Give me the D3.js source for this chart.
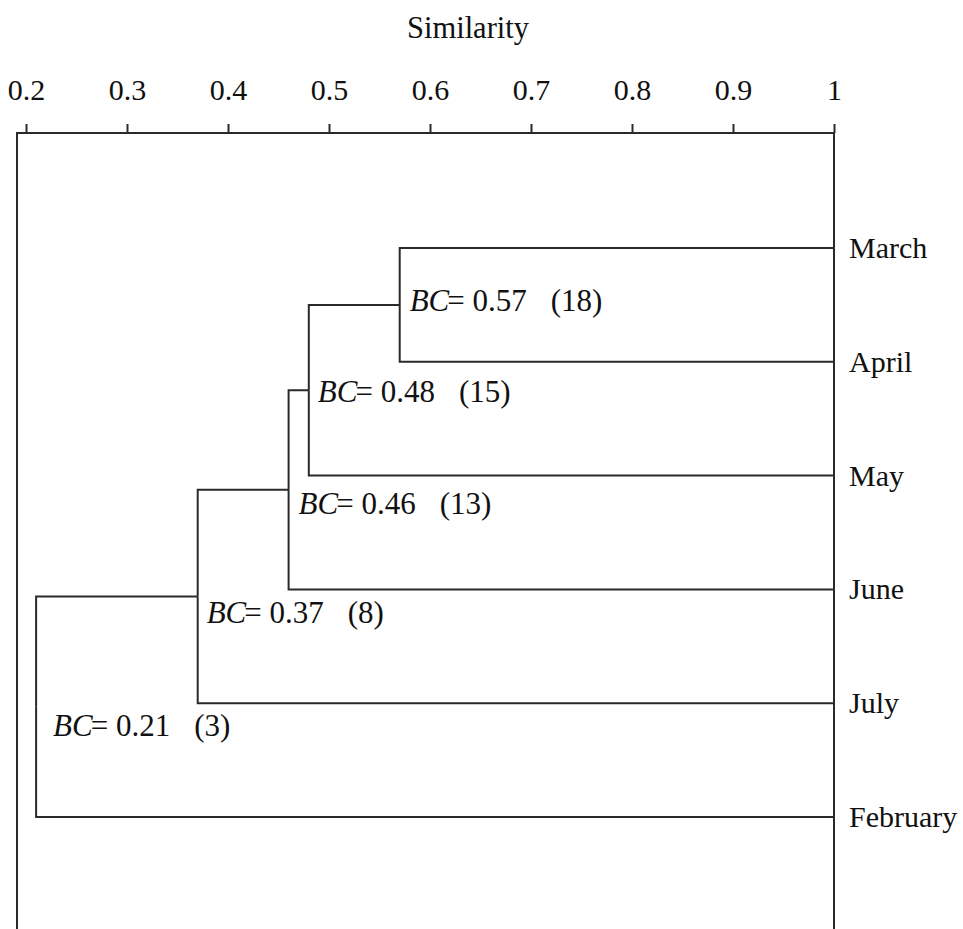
<!DOCTYPE html>
<html>
<head>
<meta charset="utf-8">
<script src="https://cdn.jsdelivr.net/npm/d3@7"></script>
<style>
  html, body { margin: 0; padding: 0; background: #ffffff; }
  svg { display: block; }
</style>
</head>
<body>
<svg id="chart" width="963" height="929"></svg>
<script>
// Months (leaves), top to bottom
const leafNames = ["March", "April", "May", "June", "July", "February"];

// Agglomeration steps: each step joins a cluster (or month) with another month
const mergeIds = ["c1", "c2", "c3", "c4", "c5"];
const mergeLeft = ["March", "c1", "c2", "c3", "c4"];
const mergeRight = ["April", "May", "June", "July", "February"];
const mergeSimilarity = [0.57, 0.48, 0.46, 0.37, 0.21];   // Bray-Curtis similarity
const sharedCounts = [18, 15, 13, 8, 3];

// Axis
const tickValues = [0.2, 0.3, 0.4, 0.5, 0.6, 0.7, 0.8, 0.9, 1];
const tickLabels = ["0.2", "0.3", "0.4", "0.5", "0.6", "0.7", "0.8", "0.9", "1"];
const axisTitle = "Similarity";

// ---- layout ----
const W = 963, H = 929;
const frameTop = 133, frameLeft = 17;
const fontFamily = '"Liberation Serif", "Times New Roman", serif';
const lineColor = "#2a2a2a";
const textColor = "#111111";
// annotation offsets (dx, dy) from each merge node
const labelOffsets = [[10, 6], [9, 12], [10, 24], [9, 26], [17, 29]];

const svg = d3.select("#chart");

const x = d3.scaleLinear().domain([0.2, 1]).range([26, 834]);
const y = d3.scalePoint().domain(leafNames).range([248, 817]);

// ---- build tree ----
const nodeMap = new Map();
leafNames.forEach(n => nodeMap.set(n, { name: n, similarity: 1 }));
mergeIds.forEach((id, i) => {
  nodeMap.set(id, {
    name: id,
    similarity: mergeSimilarity[i],
    count: sharedCounts[i],
    step: i,
    children: [nodeMap.get(mergeLeft[i]), nodeMap.get(mergeRight[i])]
  });
});
const root = d3.hierarchy(nodeMap.get(mergeIds[mergeIds.length - 1]));
root.eachAfter(d => {
  d.px = x(d.data.similarity);
  d.py = d.children ? d3.mean(d.children, c => c.py) : y(d.data.name);
});

// ---- frame ----
svg.append("path")
  .attr("fill", "none")
  .attr("stroke", lineColor)
  .attr("stroke-width", 2)
  .attr("d", `M${frameLeft},${H} V${frameTop} H${x(1)} V${H}`);

// ---- axis ----
const axis = d3.axisTop(x)
  .tickValues(tickValues)
  .tickFormat((d, i) => tickLabels[i])
  .tickSize(9)
  .tickPadding(24);

const gAxis = svg.append("g")
  .attr("transform", `translate(0,${frameTop})`)
  .call(axis);
gAxis.select(".domain").remove();
gAxis.selectAll(".tick line")
  .attr("stroke", lineColor)
  .attr("stroke-width", 2);
gAxis.selectAll(".tick text")
  .attr("fill", textColor)
  .attr("dy", 0)
  .style("font-family", fontFamily)
  .style("font-size", "30px");

svg.append("text")
  .attr("x", (x(0.2) + x(1)) / 2 + 38)
  .attr("y", 38)
  .attr("text-anchor", "middle")
  .attr("fill", textColor)
  .style("font-family", fontFamily)
  .style("font-size", "30.5px")
  .text(axisTitle);

// ---- dendrogram links ----
const links = [];
root.each(d => {
  if (d.children) d.children.forEach(c => links.push({ s: d, t: c }));
});
svg.append("g")
  .attr("fill", "none")
  .attr("stroke", lineColor)
  .attr("stroke-width", 2)
  .selectAll("path")
  .data(links)
  .join("path")
  .attr("d", l => `M${l.s.px},${l.s.py} V${l.t.py} H${l.t.px}`);

// ---- leaf labels ----
svg.append("g")
  .selectAll("text")
  .data(root.leaves())
  .join("text")
  .attr("x", d => d.px + 15)
  .attr("y", d => d.py + 10)
  .attr("fill", textColor)
  .style("font-family", fontFamily)
  .style("font-size", "30px")
  .text(d => d.data.name);

// ---- merge annotations ----
const internal = root.descendants().filter(d => d.children);
const ann = svg.append("g")
  .selectAll("text")
  .data(internal)
  .join("text")
  .attr("x", d => d.px + labelOffsets[d.data.step][0])
  .attr("y", d => d.py + labelOffsets[d.data.step][1])
  .attr("fill", textColor)
  .style("font-family", fontFamily)
  .style("font-size", "31px");
ann.append("tspan").style("font-style", "italic").text("BC");
ann.append("tspan").attr("dx", -2).text(d => "= " + d3.format(".2f")(d.data.similarity));
ann.append("tspan").attr("dx", 24).text(d => `(${d.data.count})`);
</script>
</body>
</html>
